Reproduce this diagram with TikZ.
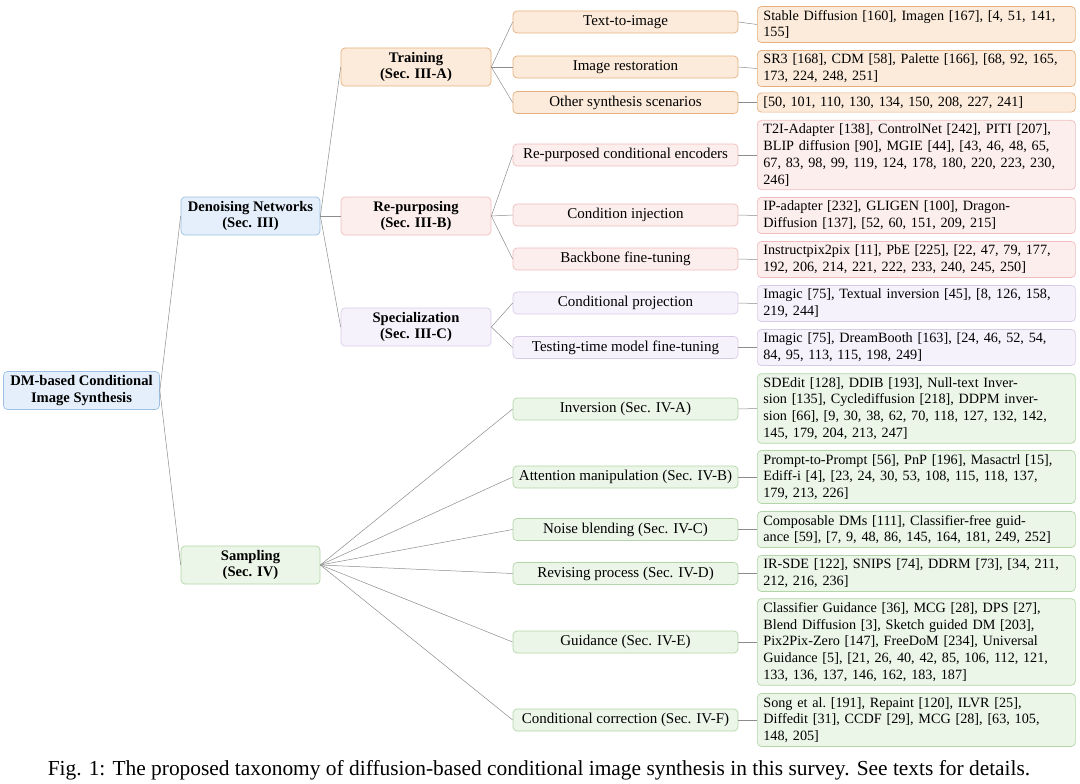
\documentclass[tikz,border=0pt]{standalone}
\usepackage{fontspec}
\setmainfont{Liberation Serif}
\usepackage{tikz}
\usetikzlibrary{positioning}
\definecolor{blueFill}{HTML}{E4EFFB}
\definecolor{blueLine}{HTML}{9DBFE3}
\definecolor{orangeFill}{HTML}{FCEBDA}
\definecolor{orangeLine}{HTML}{E6B07E}
\definecolor{pinkFill}{HTML}{FDEEEE}
\definecolor{pinkLine}{HTML}{EFBDBD}
\definecolor{purpleFill}{HTML}{F6F2FB}
\definecolor{purpleLine}{HTML}{D8CBE8}
\definecolor{greenFill}{HTML}{ECF6E8}
\definecolor{greenLine}{HTML}{B3D6A8}
\definecolor{edgeGray}{HTML}{8C8C8C}

\begin{document}
\begin{tikzpicture}[
  x=1pt, y=-1pt,
  font=\fontsize{14.2}{16.8}\selectfont,
  box/.style={draw, rounded corners=4pt, line width=0.7pt, align=center, inner sep=3pt},
  rootbox/.style={box, fill=blueFill, draw=blueLine, font=\fontsize{14.6}{16.8}\selectfont\bfseries, minimum width=156pt, minimum height=38pt},
  secbox/.style={box, font=\fontsize{14.6}{16.8}\selectfont\bfseries, minimum width=139pt, minimum height=38pt},
  subbox/.style={box, font=\fontsize{14.6}{16.8}\selectfont\bfseries, minimum width=150pt, minimum height=38pt},
  catbox/.style={box, font=\fontsize{15}{17}\selectfont, minimum width=225pt, minimum height=22pt},
  leafbox/.style={box, align=left, text width=306pt, inner xsep=6pt, inner ysep=3.6pt, anchor=west},
  orange/.style={fill=orangeFill, draw=orangeLine},
  pink/.style={fill=pinkFill, draw=pinkLine},
  purple/.style={fill=purpleFill, draw=purpleLine},
  green/.style={fill=greenFill, draw=greenLine},
  blue/.style={fill=blueFill, draw=blueLine},
  link/.style={draw=edgeGray, line width=0.5pt}
]
  \useasboundingbox (0,0) rectangle (1080,784);

  % root and sections
  \node[rootbox] (root) at (81.5,390.5) {DM-based Conditional\\Image Synthesis};
  \node[secbox, blue] (den) at (250.5,216) {Denoising Networks\\(Sec. III)};
  \node[secbox, green] (samp) at (250.5,565) {Sampling\\(Sec. IV)};

  % subsections of Sec. III
  \node[subbox, orange] (train) at (416,67) {Training\\(Sec. III-A)};
  \node[subbox, pink] (repur) at (416,216) {Re-purposing\\(Sec. III-B)};
  \node[subbox, purple] (spec) at (416,327) {Specialization\\(Sec. III-C)};

  % categories
  \node[catbox, orange] (t2i) at (625.5,22) {Text-to-image};
  \node[catbox, orange] (restore) at (625.5,67) {Image restoration};
  \node[catbox, orange] (other) at (625.5,102.5) {Other synthesis scenarios};
  \node[catbox, pink] (reenc) at (625.5,155) {Re-purposed conditional encoders};
  \node[catbox, pink] (inject) at (625.5,215) {Condition injection};
  \node[catbox, pink] (backbone) at (625.5,259) {Backbone fine-tuning};
  \node[catbox, purple] (proj) at (625.5,303) {Conditional projection};
  \node[catbox, purple] (testft) at (625.5,347.5) {Testing-time model fine-tuning};
  \node[catbox, green] (inv) at (625.5,409) {Inversion (Sec. IV-A)};
  \node[catbox, green] (attn) at (625.5,477) {Attention manipulation (Sec. IV-B)};
  \node[catbox, green] (noise) at (625.5,529.5) {Noise blending (Sec. IV-C)};
  \node[catbox, green] (revise) at (625.5,573.5) {Revising process (Sec. IV-D)};
  \node[catbox, green] (guide) at (625.5,642) {Guidance (Sec. IV-E)};
  \node[catbox, green] (correct) at (625.5,720) {Conditional correction (Sec. IV-F)};

  % references
  \node[leafbox, orange] (t2iR) at (757,24.5) {Stable Diffusion [160], Imagen [167], [4, 51, 141,\\155]};
  \node[leafbox, orange] (restoreR) at (757,68.5) {SR3 [168], CDM [58], Palette [166], [68, 92, 165,\\173, 224, 248, 251]};
  \node[leafbox, orange] (otherR) at (757,102.5) {[50, 101, 110, 130, 134, 150, 208, 227, 241]};
  \node[leafbox, pink] (reencR) at (757,155) {T2I-Adapter [138], ControlNet [242], PITI [207],\\BLIP diffusion [90], MGIE [44], [43, 46, 48, 65,\\67, 83, 98, 99, 119, 124, 178, 180, 220, 223, 230,\\246]};
  \node[leafbox, pink] (injectR) at (757,215.5) {IP-adapter [232], GLIGEN [100], Dragon-\\Diffusion [137], [52, 60, 151, 209, 215]};
  \node[leafbox, pink] (backboneR) at (757,259.5) {Instructpix2pix [11], PbE [225], [22, 47, 79, 177,\\192, 206, 214, 221, 222, 233, 240, 245, 250]};
  \node[leafbox, purple] (projR) at (757,303.5) {Imagic [75], Textual inversion [45], [8, 126, 158,\\219, 244]};
  \node[leafbox, purple] (testftR) at (757,347.5) {Imagic [75], DreamBooth [163], [24, 46, 52, 54,\\84, 95, 113, 115, 198, 249]};
  \node[leafbox, green] (invR) at (757,408.5) {SDEdit [128], DDIB [193], Null-text Inver-\\sion [135], Cyclediffusion [218], DDPM inver-\\sion [66], [9, 30, 38, 62, 70, 118, 127, 132, 142,\\145, 179, 204, 213, 247]};
  \node[leafbox, green] (attnR) at (757,477) {Prompt-to-Prompt [56], PnP [196], Masactrl [15],\\Ediff-i [4], [23, 24, 30, 53, 108, 115, 118, 137,\\179, 213, 226]};
  \node[leafbox, green] (noiseR) at (757,529.5) {Composable DMs [111], Classifier-free guid-\\ance [59], [7, 9, 48, 86, 145, 164, 181, 249, 252]};
  \node[leafbox, green] (reviseR) at (757,573.5) {IR-SDE [122], SNIPS [74], DDRM [73], [34, 211,\\212, 216, 236]};
  \node[leafbox, green] (guideR) at (757,642) {Classifier Guidance [36], MCG [28], DPS [27],\\Blend Diffusion [3], Sketch guided DM [203],\\Pix2Pix-Zero [147], FreeDoM [234], Universal\\Guidance [5], [21, 26, 40, 42, 85, 106, 112, 121,\\133, 136, 137, 146, 162, 183, 187]};
  \node[leafbox, green] (correctR) at (757,720) {Song et al.\ [191], Repaint [120], ILVR [25],\\Diffedit [31], CCDF [29], MCG [28], [63, 105,\\148, 205]};

  % caption
  \node[font=\fontsize{21.4}{25}\selectfont] (caption) at (539,770) {Fig. 1: The proposed taxonomy of diffusion-based conditional image synthesis in this survey. See texts for details.};

  % tree links
  \foreach \p/\c in {root/den, root/samp, den/train, den/repur, den/spec,
      train/t2i, train/restore, train/other, repur/reenc, repur/inject, repur/backbone,
      spec/proj, spec/testft, samp/inv, samp/attn, samp/noise, samp/revise, samp/guide, samp/correct}
    \draw[link] (\p.east) -- (\c.west);
  \foreach \c in {t2i, restore, other, reenc, inject, backbone, proj, testft,
      inv, attn, noise, revise, guide, correct}
    \draw[link] (\c.east) -- (\c R.west);
\end{tikzpicture}
\end{document}
